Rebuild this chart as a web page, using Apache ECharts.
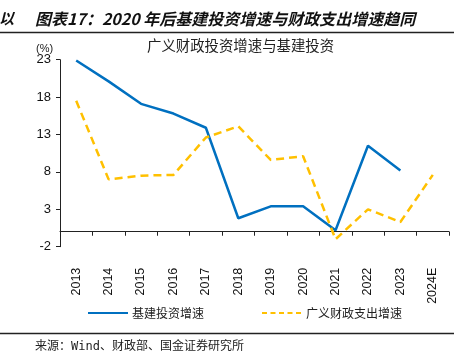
<!DOCTYPE html>
<html>
<head>
<meta charset="utf-8">
<script src="https://cdn.jsdelivr.net/npm/echarts@6/dist/echarts.min.js"></script>
<style>
html,body{margin:0;padding:0;background:#fff;}
#c{width:467px;height:361px;}
</style>
</head>
<body>
<div id="c"></div>
<script>
var categories = ['2013','2014','2015','2016','2017','2018','2019','2020','2021','2022','2023','2024E'];
var infraGrowth = [22.9, 20.1, 17.1, 15.8, 13.9, 1.8, 3.4, 3.4, 0.2, 11.5, 8.2, null];
var fiscalGrowth = [17.5, 7.0, 7.5, 7.6, 12.6, 14.1, 9.6, 10.1, -1.0, 3.0, 1.3, 7.6];
var yTicks = {min: -2, max: 23, interval: 5};
var seriesNames = ['基建投资增速', '广义财政支出增速'];

var chart = echarts.init(document.getElementById('c'), null, {renderer: 'canvas'});
var cjk = '"Noto Sans CJK SC", sans-serif';
var lat = '"Liberation Sans", Arial, sans-serif';
chart.setOption({
  animation: false,
  backgroundColor: '#fff',
  graphic: [
    {type: 'text', left: -1, top: 11, style: {text: '以', font: 'italic bold 15px ' + cjk, fill: '#111'}},
    {type: 'text', left: 35, top: 11, style: {text: '图表17：2020 年后基建投资增速与财政支出增速趋同', font: 'italic bold 16px ' + cjk, fill: '#111'}},
    {type: 'line', shape: {x1: 0, y1: 32.5, x2: 454, y2: 32.5}, style: {stroke: '#222', lineWidth: 1.5}},
    {type: 'text', left: 147, top: 38, style: {text: '广义财政投资增速与基建投资', font: '14.4px ' + cjk, fill: '#222'}},
    {type: 'text', left: 36, top: 43, style: {text: '(%)', font: '11px ' + lat, fill: '#222'}},
    {type: 'line', shape: {x1: 0, y1: 333.5, x2: 454, y2: 333.5}, style: {stroke: '#222', lineWidth: 1.5}},
    {type: 'text', left: 35, top: 341, style: {text: '来源：Wind、财政部、国金证券研究所', font: '12px "DejaVu Sans Mono", "Noto Sans CJK SC", monospace', fill: '#222'}}
  ],
  legend: {
    left: 87, top: 307, padding: 0,
    itemWidth: 40, itemHeight: 14, itemGap: 57,
    itemStyle: {opacity: 0},
    textStyle: {fontFamily: cjk, fontSize: 12, color: '#222', padding: [0,0,0,-1]},
    data: [
      {name: seriesNames[0]},
      {name: seriesNames[1], lineStyle: {type: [5, 3.5]}}
    ]
  },
  grid: {left: 60, right: 18, top: 59.7, bottom: 114.3, containLabel: false},
  xAxis: {
    type: 'category',
    data: categories,
    boundaryGap: true,
    axisLine: {onZero: true, lineStyle: {color: '#222', width: 1}},
    axisTick: {show: true, alignWithLabel: false, length: 4, lineStyle: {color: '#222'}},
    axisLabel: {rotate: 90, margin: 21, fontFamily: lat, fontSize: 12.5, color: '#111', interval: 0}
  },
  yAxis: {
    type: 'value',
    min: yTicks.min, max: yTicks.max, interval: yTicks.interval,
    splitLine: {show: false},
    axisLine: {show: true, lineStyle: {color: '#222', width: 1}},
    axisTick: {show: true, length: 4, lineStyle: {color: '#222'}},
    axisLabel: {margin: 9, fontFamily: lat, fontSize: 13, color: '#111'}
  },
  series: [
    {name: seriesNames[0], type: 'line', data: infraGrowth, showSymbol: false, symbol: 'none',
     lineStyle: {color: '#0070C0', width: 2.5}, itemStyle: {color: '#0070C0'}},
    {name: seriesNames[1], type: 'line', data: fiscalGrowth, showSymbol: false, symbol: 'none',
     lineStyle: {color: '#FFC000', width: 2.5, type: [8, 5]}, itemStyle: {color: '#FFC000'}}
  ]
});
</script>
</body>
</html>
